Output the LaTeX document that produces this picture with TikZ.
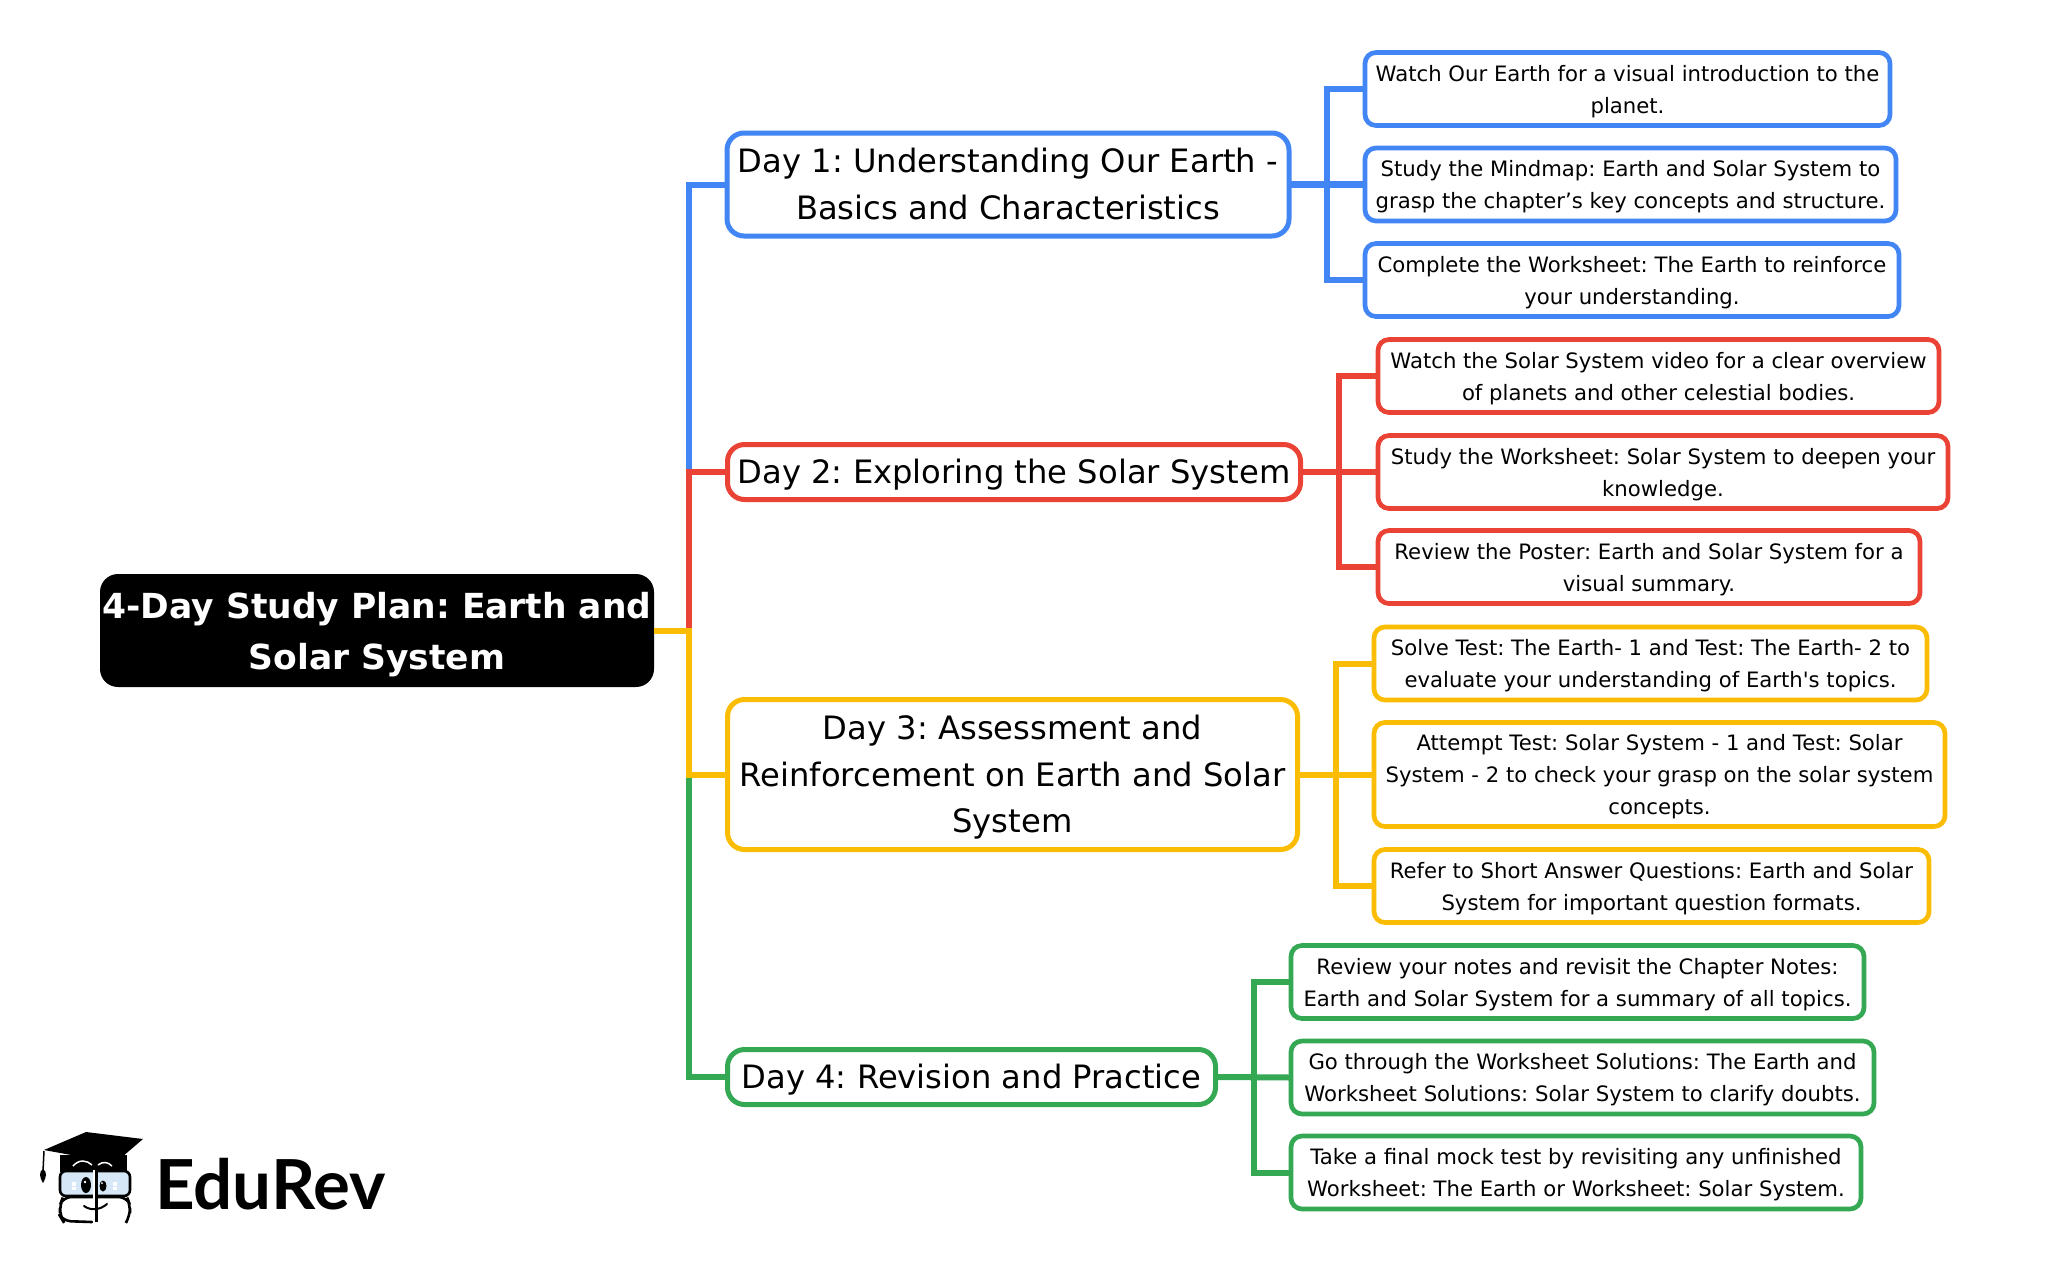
\documentclass[tikz,border=0pt]{standalone}
\usepackage{fontspec}
\setmainfont{DejaVu Sans}
\newfontfamily\logofont{Lato}
\newfontfamily\plainfont{DejaVu Sans}
\AtBeginDocument{\frenchspacing}
\definecolor{cblue}{HTML}{4285F4}
\definecolor{cred}{HTML}{EA4335}
\definecolor{cyellow}{HTML}{FBBC04}
\definecolor{cgreen}{HTML}{34A853}
\definecolor{lensblue}{HTML}{D6E8F8}
\newcommand\topS{\rule{0pt}{22pt}}
\newcommand\botS{\rule[-5.2pt]{0pt}{5.2pt}}
\newcommand\topD{\rule{0pt}{33pt}}
\newcommand\botD{\rule[-10pt]{0pt}{10pt}}
\newcommand\topR{\rule{0pt}{36pt}}
\newcommand\botR{\rule[-10pt]{0pt}{10pt}}
\tikzset{
 rootbox/.style={fill=black,text=white,rounded corners=18pt,inner sep=0pt,outer sep=0pt,align=center,font=\fontsize{34.5}{51}\selectfont\bfseries,minimum width=554pt,minimum height=113pt},
 daybox/.style={draw=#1,fill=white,line width=5pt,rounded corners=17pt,inner sep=0pt,outer sep=0pt,align=center,font=\fontsize{32.2}{46.5}\selectfont},
 subbox/.style={draw=#1,fill=white,line width=4.7pt,rounded corners=11pt,inner sep=0pt,outer sep=0pt,align=center,font=\fontsize{21.2}{32}\selectfont},
 link/.style={draw=#1,line width=6pt,line join=miter},
 logoline/.style={draw=black,line width=2.6pt,line cap=round},
}
\begin{document}
\begin{tikzpicture}[x=1pt,y=-1pt]
\useasboundingbox (0,0) rectangle (2052,1262);
% nodes
\node[rootbox] (root) at (377,630.5) {\topR 4-Day Study Plan: Earth and\\Solar System\botR};
\node[daybox=cblue,minimum width=562pt,minimum height=103pt] (d1) at (1008,184.5) {\topD Day 1: Understanding Our Earth -\\Basics and Characteristics\botD};
\node[daybox=cred,minimum width=573pt,minimum height=55pt] (d2) at (1014,472) {\topD Day 2: Exploring the Solar System\botD};
\node[daybox=cyellow,minimum width=570pt,minimum height=150pt] (d3) at (1012.5,774.5) {\topD Day 3: Assessment and\\Reinforcement on Earth and Solar\\System\botD};
\node[daybox=cgreen,minimum width=488pt,minimum height=55pt] (d4) at (971.5,1077) {\topD Day 4: Revision and Practice\botD};
\node[subbox=cblue,minimum width=525pt,minimum height=73pt] (s11) at (1627.5,89) {\topS Watch Our Earth for a visual introduction to the\\planet.\botS};
\node[subbox=cblue,minimum width=531pt,minimum height=73pt] (s12) at (1630.5,184.5) {\topS Study the Mindmap: Earth and Solar System to\\grasp the chapter’s key concepts and structure.\botS};
\node[subbox=cblue,minimum width=534pt,minimum height=73pt] (s13) at (1632,280) {\topS Complete the Worksheet: The Earth to reinforce\\your understanding.\botS};
\node[subbox=cred,minimum width=561pt,minimum height=73pt] (s21) at (1658.5,376) {\topS Watch the Solar System video for a clear overview\\of planets and other celestial bodies.\botS};
\node[subbox=cred,minimum width=570pt,minimum height=73pt] (s22) at (1663,472) {\topS Study the Worksheet: Solar System to deepen your\\knowledge.\botS};
\node[subbox=cred,minimum width=542pt,minimum height=73pt] (s23) at (1649,567) {\topS Review the Poster: Earth and Solar System for a\\visual summary.\botS};
\node[subbox=cyellow,minimum width=553pt,minimum height=73pt] (s31) at (1650.5,663.5) {\topS Solve Test: The Earth- 1 and Test: The Earth- 2 to\\evaluate your understanding of Earth{\plainfont'}s topics.\botS};
\node[subbox=cyellow,minimum width=571pt,minimum height=104pt] (s32) at (1659.5,774.5) {\topS Attempt Test: Solar System - 1 and Test: Solar\\System - 2 to check your grasp on the solar system\\concepts.\botS};
\node[subbox=cyellow,minimum width=555pt,minimum height=73pt] (s33) at (1651.5,886) {\topS Refer to Short Answer Questions: Earth and Solar\\System for important question formats.\botS};
\node[subbox=cgreen,minimum width=573pt,minimum height=73pt] (s41) at (1577.5,982) {\topS Review your notes and revisit the Chapter Notes:\\Earth and Solar System for a summary of all topics.\botS};
\node[subbox=cgreen,minimum width=583pt,minimum height=73pt] (s42) at (1582.5,1077.5) {\topS Go through the Worksheet Solutions: The Earth and\\Worksheet Solutions: Solar System to clarify doubts.\botS};
\node[subbox=cgreen,minimum width=570pt,minimum height=73pt] (s43) at (1576,1172.5) {\topS Take a final mock test by revisiting any unfinished\\Worksheet: The Earth or Worksheet: Solar System.\botS};
% connector rails
\coordinate (tx) at (689.3,0);
\coordinate (bx1) at (1327,0);
\coordinate (bx2) at (1339.3,0);
\coordinate (bx3) at (1336,0);
\coordinate (bx4) at (1254,0);
% trunk
\draw[link=cblue] (root.east) -- (root.east -| tx) -- (tx |- d1.west) -- (d1.west);
\draw[link=cred] (root.east) -- (root.east -| tx) -- (tx |- d2.west) -- (d2.west);
\draw[link=cgreen] (root.east) -- (root.east -| tx) -- (tx |- d4.west) -- (d4.west);
\draw[link=cyellow] (root.east) -- (root.east -| tx) -- (tx |- d3.west) -- (d3.west);
% day 1
\draw[link=cblue,line width=6.7pt] (d1.east) -- (d1.east -| bx1) -- (bx1 |- s11.west) -- (s11.west);
\draw[link=cblue,line width=6.7pt] (d1.east) -- (s12.west);
\draw[link=cblue,line width=6.7pt] (d1.east) -- (d1.east -| bx1) -- (bx1 |- s13.west) -- (s13.west);
% day 2
\draw[link=cred] (d2.east) -- (d2.east -| bx2) -- (bx2 |- s21.west) -- (s21.west);
\draw[link=cred] (d2.east) -- (s22.west);
\draw[link=cred] (d2.east) -- (d2.east -| bx2) -- (bx2 |- s23.west) -- (s23.west);
% day 3
\draw[link=cyellow] (d3.east) -- (d3.east -| bx3) -- (bx3 |- s31.west) -- (s31.west);
\draw[link=cyellow] (d3.east) -- (s32.west);
\draw[link=cyellow] (d3.east) -- (d3.east -| bx3) -- (bx3 |- s33.west) -- (s33.west);
% day 4
\draw[link=cgreen] (d4.east) -- (d4.east -| bx4) -- (bx4 |- s41.west) -- (s41.west);
\draw[link=cgreen] (d4.east) -- (s42.west);
\draw[link=cgreen] (d4.east) -- (d4.east -| bx4) -- (bx4 |- s43.west) -- (s43.west);
% logo
\fill[black] (60,1155) -- (60,1172) -- (127,1172) -- (127,1155) -- cycle;
\fill[black] (44,1150) -- (86,1132) -- (143,1139) -- (115,1163) -- cycle;
\draw[white,line width=1.5pt] (73,1166) .. controls (79,1159) and (87,1160) .. (92,1165);
\draw[white,line width=1.5pt] (98,1165) .. controls (103,1161) and (108,1162) .. (112,1166);
\draw[black,line width=1.5pt] (44,1151) -- (43,1171);
\fill[black] (43,1169) .. controls (47,1172) and (47,1176) .. (43,1183) .. controls (39,1176) and (39,1172) .. (43,1169) -- cycle;
\draw[logoline,fill=lensblue,rounded corners=6pt] (60,1171) rectangle (130,1196);
\draw[logoline,rounded corners=8pt] (93,1197) -- (63,1197) -- (60,1205) -- (60,1216) -- (63,1221) -- (92,1222);
\draw[logoline,rounded corners=8pt] (97,1197) -- (127,1197) -- (130,1205) -- (130,1216) -- (127,1221);
\fill[white] (93,1170) rectangle (97,1224);
\draw[black,line width=3pt] (96,1170) -- (96,1222);
\fill[black] (86,1185) ellipse (5pt and 8pt);
\fill[black] (103,1186) ellipse (3.5pt and 5.5pt);
\fill[white] (85,1182) circle (1.4pt);
\fill[white] (102,1183) circle (1pt);
\fill[white] (72,1182) rectangle (76,1186);
\fill[white] (72,1186.5) rectangle (76,1190);
\fill[white] (113,1182) rectangle (117,1186);
\fill[white] (113,1186.5) rectangle (117,1190);
\draw[black,line width=2pt,line cap=round] (84,1206) .. controls (91,1211) and (100,1210) .. (107,1204);
\node[anchor=base west,inner sep=0pt,font=\logofont\bfseries\fontsize{69}{69}\selectfont] (brand) at (155,1209) {EduRev};
\end{tikzpicture}
\end{document}
